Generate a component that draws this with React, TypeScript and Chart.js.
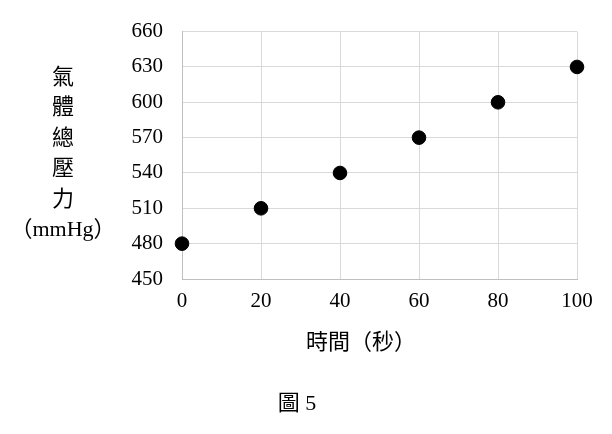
import { useEffect, useRef } from "react"
import { Chart, registerables } from "chart.js"

Chart.register(...registerables)

const FUENTE = '"Liberation Serif", "Noto Sans CJK TC", serif'

// Datos del gráfico
const tiempos = [0, 20, 40, 60, 80, 100]
const presiones = [480, 510, 540, 570, 600, 630]
const tituloY = ["氣", "體", "總", "壓", "力", "（mmHg）"]
const tituloX = "時間（秒）"
const leyenda = "圖 5"

// Textos fuera de los ejes (título vertical, título X y leyenda)
const textosPlugin = {
  id: "textos",
  afterDraw(chart: Chart) {
    const { ctx } = chart
    ctx.save()
    ctx.fillStyle = "#000"
    ctx.textAlign = "center"
    ctx.textBaseline = "middle"
    ctx.font = `22px ${FUENTE}`
    tituloY.forEach((t, i) => ctx.fillText(t, 63, 78 + i * 30.5))
    ctx.fillText(tituloX, 361, 343)
    ctx.fillText(leyenda, 297, 404)
    ctx.restore()
  },
}

export default function App() {
  const canvasRef = useRef<HTMLCanvasElement>(null)
  const chartRef = useRef<Chart | null>(null)

  useEffect(() => {
    if (!canvasRef.current) return
    const ctx = canvasRef.current.getContext("2d")
    if (!ctx) return
    chartRef.current?.destroy()

    chartRef.current = new Chart(ctx, {
      type: "scatter",
      data: {
        datasets: [
          {
            data: tiempos.map((t, i) => ({ x: t, y: presiones[i] })),
            backgroundColor: "#000",
            borderColor: "#000",
            pointRadius: 6.8,
            clip: false,
          },
        ],
      },
      options: {
        responsive: true,
        maintainAspectRatio: false,
        animation: false,
        layout: { padding: { top: 26, right: 35, bottom: 55, left: 0 } },
        plugins: { legend: { display: false }, tooltip: { enabled: false } },
        scales: {
          x: {
            type: "linear",
            min: 0,
            max: 100,
            ticks: { stepSize: 20, color: "#000", font: { family: FUENTE, size: 21 }, padding: 10 },
            grid: { color: "#d9d9d9", drawTicks: false },
            border: { color: "#bfbfbf" },
            afterFit: (scale: any) => {
              scale.height = 100
            },
          },
          y: {
            min: 450,
            max: 660,
            ticks: { stepSize: 30, color: "#000", font: { family: FUENTE, size: 21 }, padding: 19 },
            grid: { color: "#d9d9d9", drawTicks: false },
            border: { color: "#bfbfbf" },
            afterFit: (scale: any) => {
              scale.width = 182
            },
          },
        },
      },
      plugins: [textosPlugin],
    })

    return () => {
      chartRef.current?.destroy()
      chartRef.current = null
    }
  }, [])

  return (
    <div style={{ position: "fixed", left: 0, top: 0, width: 612, height: 434, background: "#fff" }}>
      <canvas ref={canvasRef}></canvas>
    </div>
  )
}
